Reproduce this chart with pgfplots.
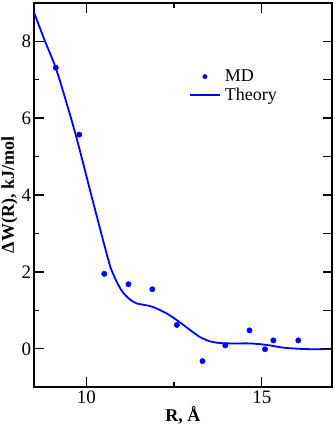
\documentclass[border=0pt]{standalone}
\usepackage{fontspec}
\setmainfont{Liberation Serif}
\usepackage{pgfplots}
\pgfplotsset{compat=1.18}

\definecolor{mdblue}{RGB}{0,0,255}
\pgfplotsset{
  dotleg/.style={legend image code/.code={\fill[mdblue] (15pt,0pt) circle (2.2pt);}},
  lineleg/.style={legend image code/.code={\draw[mdblue, line width=1.8pt] (0pt,0pt) -- (30pt,0pt);}},
}

\begin{document}
\begin{tikzpicture}
\begin{axis}[
  scale only axis, width=298.3pt, height=384.6pt,
  xmin=8.5, xmax=17, ymin=-1, ymax=9,
  xtick={10,15}, ytick={0,2,4,6,8},
  minor x tick num=1, minor y tick num=1,
  ytick pos=left,
  tick align=inside,
  major tick length=10pt, minor tick length=5pt,
  tick style={line width=1.2pt, black},
  axis line style={line width=1.8pt},
  yticklabel style={xshift=1pt},
  /pgf/number format/assume math mode=true,
  ticklabel style={font=\fontsize{19}{19}\selectfont},
  label style={font=\fontsize{18}{18}\selectfont\bfseries},
  xlabel={R, Å}, ylabel={ΔW(R), kJ/mol},
  xlabel style={yshift=4pt},
  ylabel style={yshift=-3pt},
  legend cell align=left,
  legend style={draw=none, fill=none, at={(0.51,0.836)}, anchor=north west,
    font=\fontsize{18}{18}\selectfont, row sep=1pt,
    /tikz/every even column/.append style={column sep=0pt},
    /tikz/every odd column/.append style={column sep=2pt}},
]
\addplot[only marks, mark=*, mark size=2.7pt, color=mdblue, dotleg]
  coordinates {
  (9.13,7.31) (9.80,5.57) (10.51,1.95) (11.20,1.68) (11.88,1.55)
  (12.58,0.62) (13.31,-0.32) (13.96,0.09) (14.65,0.48) (15.09,-0.01)
  (15.33,0.22) (16.04,0.22)
};
\addlegendentry{MD}
\addplot[color=mdblue, line width=1.8pt, smooth, no marks, lineleg]
  coordinates {
  (8.5,8.77) (8.8,8.05) (9.13,7.3) (9.45,6.35) (9.74,5.42) (10.18,3.86)
  (10.63,2.30) (10.75,1.98) (10.9,1.68) (11.05,1.46) (11.25,1.28)
  (11.44,1.18) (11.86,1.10)
  (12.29,0.92) (12.68,0.68) (12.97,0.48) (13.25,0.30) (13.54,0.19)
  (13.82,0.15) (14.2,0.14) (14.68,0.14) (15.15,0.10) (15.62,0.03)
  (16.1,0.0) (16.5,-0.01) (17,0.0)
};
\addlegendentry{Theory}
\end{axis}
% right-hand ticks: one at every unit, all of the same length
\begin{axis}[
  scale only axis, width=298.3pt, height=384.6pt,
  xmin=8.5, xmax=17, ymin=-1, ymax=9,
  axis x line=none, axis y line*=right,
  ytick={0,1,...,8}, yticklabels={}, tick align=inside,
  major tick length=9pt,
  tick style={line width=1.2pt, black},
  axis line style={line width=1.8pt, -},
]
\end{axis}
\pgfresetboundingbox
\path (current axis.south west) ++(-33.7pt,-42.7pt) coordinate (bbl);
\path (current axis.north east) ++(2pt,2.7pt) coordinate (bbr);
\useasboundingbox (bbl) rectangle (bbr);
\end{tikzpicture}
\end{document}
